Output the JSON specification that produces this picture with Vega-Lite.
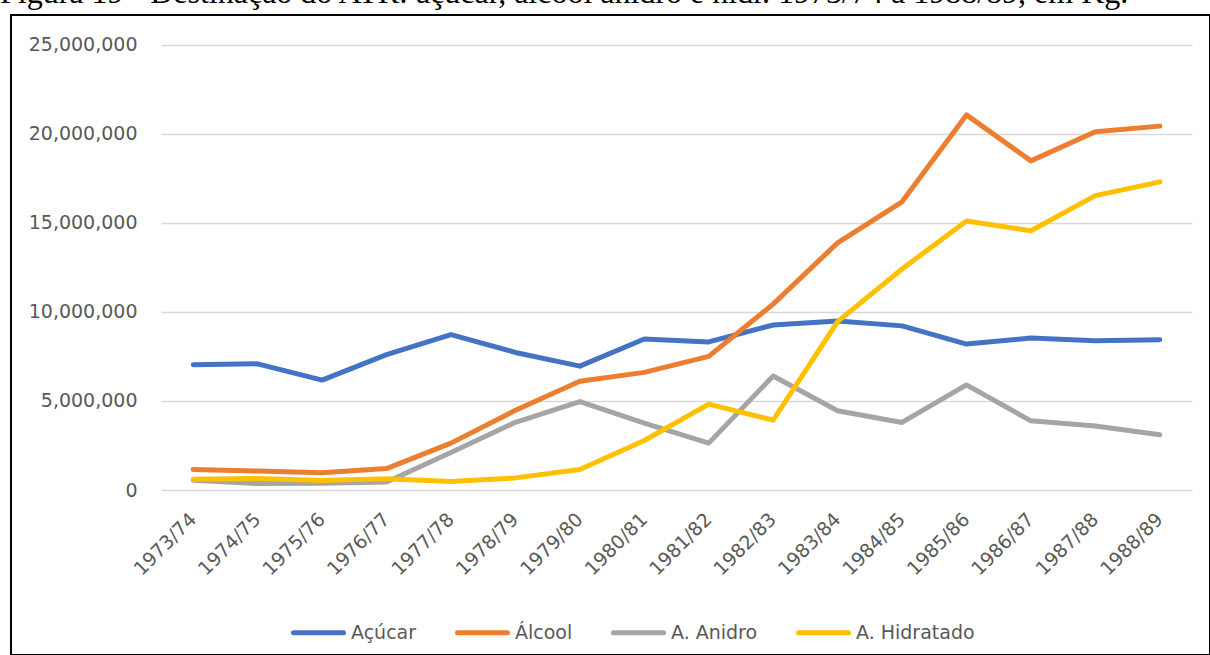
{
  "$schema": "https://vega.github.io/schema/vega-lite/v6.json",
  "autosize": "none",
  "width": 1199,
  "height": 640,
  "padding": {"left": 11, "top": 15, "right": 0, "bottom": 0},
  "background": "white",
  "title": {
    "text": "Figura 19 - Destinação do ATR: açúcar, álcool anidro e hidr. 1973/74 a 1988/89, em Kg.",
    "font": "Liberation Serif",
    "fontSize": 32,
    "fontWeight": "normal",
    "color": "#000000",
    "anchor": "start",
    "frame": "group",
    "baseline": "alphabetic",
    "offset": 0,
    "dx": -11,
    "dy": 20
  },
  "config": {
    "view": {"stroke": "#000000", "strokeWidth": 2},
    "font": "DejaVu Sans"
  },
  "data": {
    "values": [
      {"safra": "1973/74", "serie": "Açúcar", "kg": 7030000},
      {"safra": "1974/75", "serie": "Açúcar", "kg": 7080000},
      {"safra": "1975/76", "serie": "Açúcar", "kg": 6170000},
      {"safra": "1976/77", "serie": "Açúcar", "kg": 7600000},
      {"safra": "1977/78", "serie": "Açúcar", "kg": 8720000},
      {"safra": "1978/79", "serie": "Açúcar", "kg": 7720000},
      {"safra": "1979/80", "serie": "Açúcar", "kg": 6950000},
      {"safra": "1980/81", "serie": "Açúcar", "kg": 8470000},
      {"safra": "1981/82", "serie": "Açúcar", "kg": 8310000},
      {"safra": "1982/83", "serie": "Açúcar", "kg": 9260000},
      {"safra": "1983/84", "serie": "Açúcar", "kg": 9490000},
      {"safra": "1984/85", "serie": "Açúcar", "kg": 9210000},
      {"safra": "1985/86", "serie": "Açúcar", "kg": 8190000},
      {"safra": "1986/87", "serie": "Açúcar", "kg": 8530000},
      {"safra": "1987/88", "serie": "Açúcar", "kg": 8370000},
      {"safra": "1988/89", "serie": "Açúcar", "kg": 8430000},
      {"safra": "1973/74", "serie": "Álcool", "kg": 1150000},
      {"safra": "1974/75", "serie": "Álcool", "kg": 1060000},
      {"safra": "1975/76", "serie": "Álcool", "kg": 970000},
      {"safra": "1976/77", "serie": "Álcool", "kg": 1200000},
      {"safra": "1977/78", "serie": "Álcool", "kg": 2630000},
      {"safra": "1978/79", "serie": "Álcool", "kg": 4470000},
      {"safra": "1979/80", "serie": "Álcool", "kg": 6100000},
      {"safra": "1980/81", "serie": "Álcool", "kg": 6600000},
      {"safra": "1981/82", "serie": "Álcool", "kg": 7500000},
      {"safra": "1982/83", "serie": "Álcool", "kg": 10430000},
      {"safra": "1983/84", "serie": "Álcool", "kg": 13870000},
      {"safra": "1984/85", "serie": "Álcool", "kg": 16170000},
      {"safra": "1985/86", "serie": "Álcool", "kg": 21050000},
      {"safra": "1986/87", "serie": "Álcool", "kg": 18470000},
      {"safra": "1987/88", "serie": "Álcool", "kg": 20100000},
      {"safra": "1988/89", "serie": "Álcool", "kg": 20420000},
      {"safra": "1973/74", "serie": "A. Anidro", "kg": 550000},
      {"safra": "1974/75", "serie": "A. Anidro", "kg": 360000},
      {"safra": "1975/76", "serie": "A. Anidro", "kg": 380000},
      {"safra": "1976/77", "serie": "A. Anidro", "kg": 450000},
      {"safra": "1977/78", "serie": "A. Anidro", "kg": 2100000},
      {"safra": "1978/79", "serie": "A. Anidro", "kg": 3800000},
      {"safra": "1979/80", "serie": "A. Anidro", "kg": 4960000},
      {"safra": "1980/81", "serie": "A. Anidro", "kg": 3750000},
      {"safra": "1981/82", "serie": "A. Anidro", "kg": 2630000},
      {"safra": "1982/83", "serie": "A. Anidro", "kg": 6400000},
      {"safra": "1983/84", "serie": "A. Anidro", "kg": 4450000},
      {"safra": "1984/85", "serie": "A. Anidro", "kg": 3790000},
      {"safra": "1985/86", "serie": "A. Anidro", "kg": 5900000},
      {"safra": "1986/87", "serie": "A. Anidro", "kg": 3880000},
      {"safra": "1987/88", "serie": "A. Anidro", "kg": 3590000},
      {"safra": "1988/89", "serie": "A. Anidro", "kg": 3100000},
      {"safra": "1973/74", "serie": "A. Hidratado", "kg": 600000},
      {"safra": "1974/75", "serie": "A. Hidratado", "kg": 650000},
      {"safra": "1975/76", "serie": "A. Hidratado", "kg": 530000},
      {"safra": "1976/77", "serie": "A. Hidratado", "kg": 630000},
      {"safra": "1977/78", "serie": "A. Hidratado", "kg": 480000},
      {"safra": "1978/79", "serie": "A. Hidratado", "kg": 680000},
      {"safra": "1979/80", "serie": "A. Hidratado", "kg": 1150000},
      {"safra": "1980/81", "serie": "A. Hidratado", "kg": 2780000},
      {"safra": "1981/82", "serie": "A. Hidratado", "kg": 4820000},
      {"safra": "1982/83", "serie": "A. Hidratado", "kg": 3920000},
      {"safra": "1983/84", "serie": "A. Hidratado", "kg": 9450000},
      {"safra": "1984/85", "serie": "A. Hidratado", "kg": 12400000},
      {"safra": "1985/86", "serie": "A. Hidratado", "kg": 15100000},
      {"safra": "1986/87", "serie": "A. Hidratado", "kg": 14550000},
      {"safra": "1987/88", "serie": "A. Hidratado", "kg": 16520000},
      {"safra": "1988/89", "serie": "A. Hidratado", "kg": 17290000}
    ]
  },
  "mark": {"type": "line", "strokeWidth": 5, "strokeCap": "round", "strokeJoin": "round"},
  "encoding": {
    "x": {
      "field": "safra",
      "type": "ordinal",
      "sort": null,
      "bandPosition": 0.5,
      "scale": {"type": "band", "range": [150, 1181], "paddingInner": 0, "paddingOuter": 0},
      "axis": {
        "title": null,
        "orient": "bottom",
        "offset": -165,
        "bandPosition": 0.5,
        "domain": false,
        "ticks": false,
        "tickSize": 0,
        "grid": false,
        "labelAngle": -45,
        "labelAlign": "right",
        "labelBaseline": "middle",
        "labelPadding": 26,
        "labelOffset": 0,
        "labelFont": "DejaVu Sans",
        "labelFontSize": 19,
        "labelColor": "#595959"
      }
    },
    "y": {
      "field": "kg",
      "type": "quantitative",
      "scale": {"domain": [0, 25000000], "range": [475, 29.5], "nice": false, "zero": true},
      "axis": {
        "title": null,
        "orient": "left",
        "offset": -150,
        "values": [0, 5000000, 10000000, 15000000, 20000000, 25000000],
        "format": ",d",
        "domain": false,
        "ticks": false,
        "tickSize": 0,
        "grid": true,
        "gridColor": "#D9D9D9",
        "gridWidth": 1.5,
        "labelPadding": 24,
        "labelFont": "DejaVu Sans",
        "labelFontSize": 19,
        "labelColor": "#595959",
        "labelBaseline": "middle"
      }
    },
    "color": {
      "field": "serie",
      "type": "nominal",
      "sort": null,
      "scale": {
        "domain": ["Açúcar", "Álcool", "A. Anidro", "A. Hidratado"],
        "range": ["#4472C4", "#ED7D31", "#A5A5A5", "#FFC000"]
      },
      "legend": {
        "title": null,
        "orient": "none",
        "direction": "horizontal",
        "legendX": 280,
        "legendY": 590,
        "symbolType": "stroke",
        "symbolSize": 2500,
        "symbolStrokeWidth": 5,
        "labelOffset": 5,
        "columnPadding": 30,
        "labelFont": "DejaVu Sans",
        "labelFontSize": 19,
        "labelColor": "#595959",
        "labelLimit": 300,
        "encode": {"symbols": {"update": {"strokeCap": {"value": "round"}}}}
      }
    }
  }
}
